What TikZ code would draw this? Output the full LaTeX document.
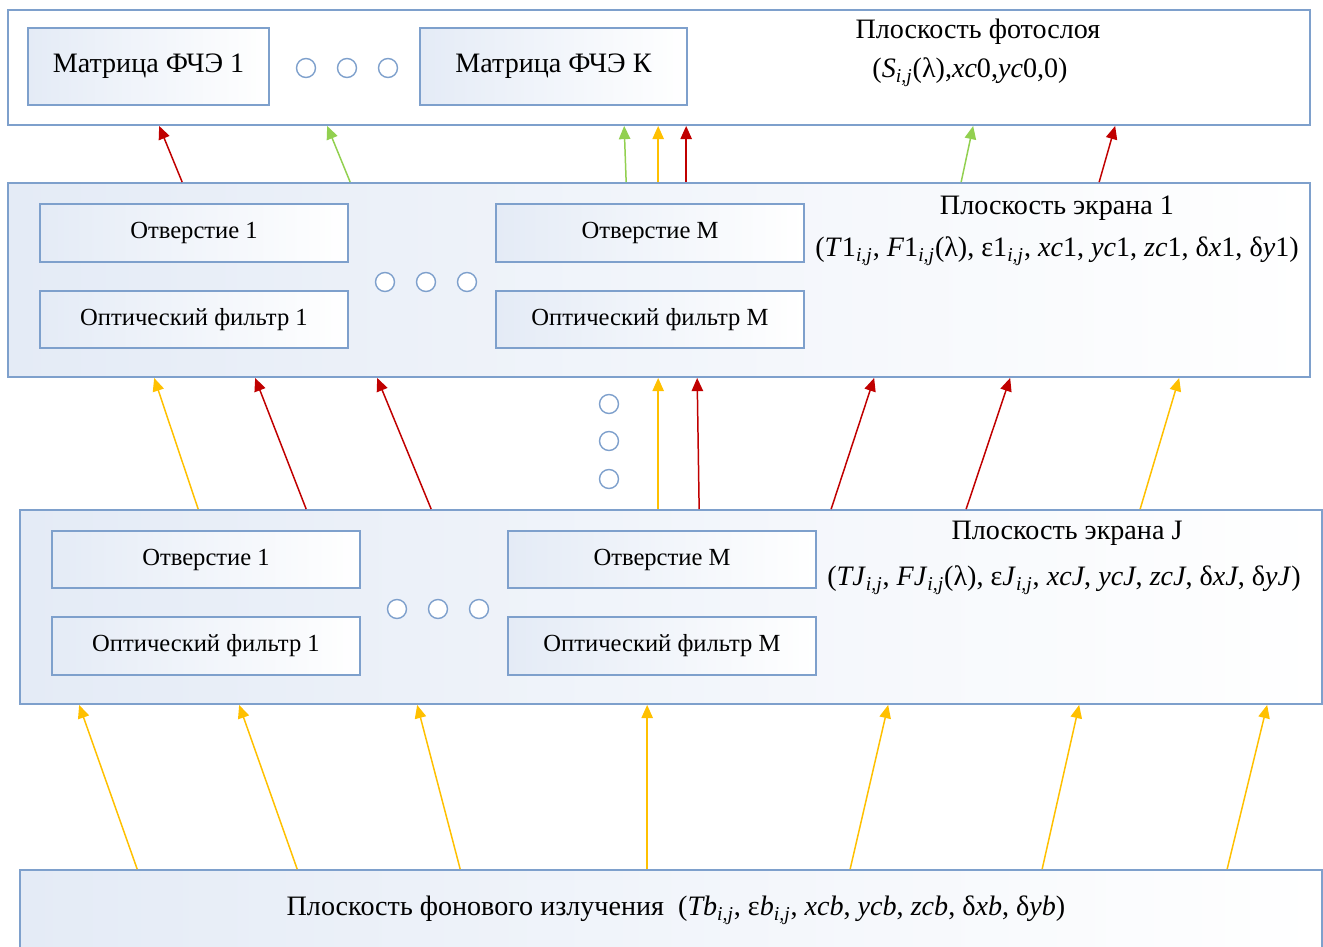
\documentclass[tikz,border=0pt]{standalone}
\usepackage{fontspec}
\setmainfont{Liberation Serif}
\usepackage{xcolor}
\usetikzlibrary{arrows.meta, calc}

\definecolor{rama}{RGB}{126,160,204}
\definecolor{zalivka}{RGB}{228,235,246}
\definecolor{krasn}{RGB}{192,0,0}
\definecolor{zhelt}{RGB}{255,192,0}
\definecolor{zelen}{RGB}{146,208,80}

\newcommand{\sij}{\textsubscript{\textit{i,j}}}

\begin{document}
\begin{tikzpicture}[x=0.02cm, y=-0.02cm]
        % стили
        \tikzset{plane/.style={draw=rama, line width=1.1pt, left color=zalivka, right color=white, minimum width=26.04cm, minimum height=3.88cm}}
        \tikzset{part/.style={draw=rama, line width=0.9pt, left color=zalivka, right color=white, minimum width=6.16cm, minimum height=1.15cm, font=\fontsize{14}{16}\selectfont}}
        \tikzset{krug/.style={circle, draw=rama, line width=0.8pt, fill=white, minimum width=0.34cm, minimum height=0.38cm, inner sep=0pt}}
        \tikzset{zagl/.style={font=\fontsize{16}{18}\selectfont}}
        \tikzset{luch/.style={line width=0.85pt, -{Triangle[length=7.5pt, width=6.5pt]}}}

        \useasboundingbox (0,0) rectangle (1323,947);

        % 1. плоскость фотослоя
        \node[plane, fill=white, left color=white, minimum height=2.3cm] (photo) at (659,67.5) {};
        \node[part, minimum width=4.82cm, minimum height=1.54cm, font=\fontsize{16}{18}\selectfont] (m1) at (148.5,66.5) {Матрица ФЧЭ 1};
        \node[part, minimum width=5.34cm, minimum height=1.54cm, font=\fontsize{16}{18}\selectfont] (mK) at (553.5,66.5) {Матрица ФЧЭ К};
        \foreach \i/\x in {1/306, 2/347, 3/388}
            \node[krug] (pk\i) at (\x,68) {};
        \node[zagl] (t0) at (978,32) {Плоскость фотослоя};
        \node[zagl] (p0) at (970,72) {(\textit{S}\sij(λ),\textit{xc}0,\textit{yc}0,0)};

        % 2. плоскость экрана 1
        \node[plane] (scr1) at (659,280) {};
        \node[part] (h1) at (194,233) {Отверстие 1};
        \node[part] (f1) at (194,319.5) {Оптический фильтр 1};
        \node[part] (hM) at (650,233) {Отверстие М};
        \node[part] (fM) at (650,319.5) {Оптический фильтр М};
        \foreach \i/\x in {1/385, 2/426, 3/467}
            \node[krug] (ak\i) at (\x,282) {};
        \node[zagl] (t1) at (1057,208) {Плоскость экрана 1};
        \node[zagl] (p1) at (1057,251) {(\textit{T}1\sij, \textit{F}1\sij(λ), ε1\sij, \textit{xc}1, \textit{yc}1, \textit{zc}1, δ\textit{x}1, δ\textit{y}1)};

        % вертикальные кружки
        \foreach \i/\y in {1/404, 2/441, 3/479}
            \node[krug] (vk\i) at (609,\y) {};

        % 3. плоскость экрана J
        \node[plane] (scrJ) at (671,607) {};
        \node[part] (h1J) at (206,559.5) {Отверстие 1};
        \node[part] (f1J) at (206,646) {Оптический фильтр 1};
        \node[part] (hMJ) at (662,559.5) {Отверстие М};
        \node[part] (fMJ) at (662,646) {Оптический фильтр М};
        \foreach \i/\x in {1/397, 2/438, 3/479}
            \node[krug] (bk\i) at (\x,609) {};
        \node[zagl] (tJ) at (1067,533) {Плоскость экрана J};
        \node[zagl] (pJ) at (1064,580) {(\textit{TJ}\sij, \textit{FJ}\sij(λ), ε\textit{J}\sij, \textit{xcJ}, \textit{ycJ}, \textit{zcJ}, δ\textit{xJ}, δ\textit{yJ})};

        % 4. плоскость фонового излучения
        \node[plane, minimum height=1.8cm] (fon) at (671,915) {};
        \node[zagl] (tb) at (676,910) {Плоскость фонового излучения \ (\textit{Tb}\sij, ε\textit{b}\sij, \textit{xcb}, \textit{ycb}, \textit{zcb}, δ\textit{xb}, δ\textit{yb})};

        % лучи: экран 1 -> фотослой
        \foreach \a/\b/\c in {175/152/krasn, 343/320/zelen, 619/617/zelen, 651/651/zhelt, 679/679/krasn, 954/966/zelen, 1092/1108/krasn}
            \draw[luch, \c] ($(scr1.north west)+(\a,0)$) -- ($(photo.south west)+(\b,0)$);

        % лучи: экран J -> экран 1
        \foreach \a/\b/\c in {179/147/zhelt, 287/248/krasn, 412/370/krasn, 639/651/zhelt, 680/690/krasn, 812/867/krasn, 947/1003/krasn, 1121/1172/zhelt}
            \draw[luch, \c] ($(scrJ.north west)+(\a,0)$) -- ($(scr1.south west)+(\b,0)$);

        % лучи: фон -> экран J
        \foreach \a/\b in {118/60, 278/220, 441/398, 628/628, 831/869, 1023/1060, 1208/1248}
            \draw[luch, zhelt] ($(fon.north west)+(\a,0)$) -- ($(scrJ.south west)+(\b,0)$);
    \end{tikzpicture}
\end{document}
